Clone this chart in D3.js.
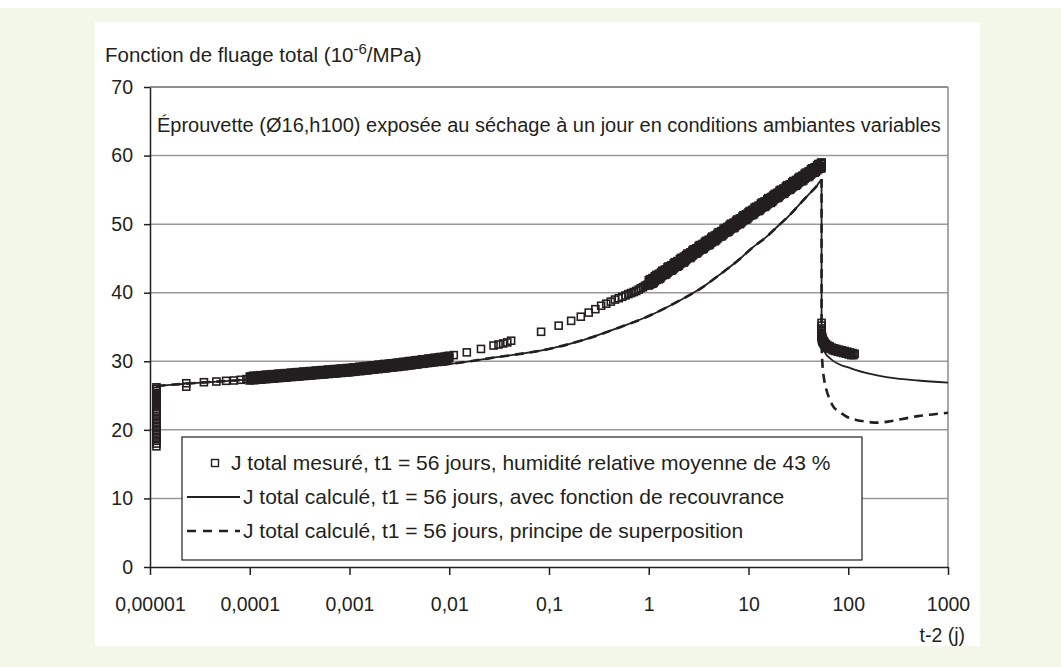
<!DOCTYPE html>
<html>
<head>
<meta charset="utf-8">
<script src="https://cdn.jsdelivr.net/npm/d3@7"></script>
<style>
  body { margin: 0; background: #fff; }
  svg text { font-family: "Liberation Sans", Arial, sans-serif; fill: #231f20; }
</style>
</head>
<body>
<div id="chart"></div>
<script>
// axis ticks
const xTicks = [1e-5, 1e-4, 1e-3, 1e-2, 0.1, 1, 10, 100, 1000];
const xTickLabels = ["0,00001", "0,0001", "0,001", "0,01", "0,1", "1", "10", "100", "1000"];
const yTicks = [0, 10, 20, 30, 40, 50, 60, 70];

// measured total creep, [t-2 (days), J]
// readings at loading
const measuredColumn = [
  [1.16e-5, 17.6], [1.16e-5, 18.0], [1.16e-5, 18.4], [1.16e-5, 18.8], [1.16e-5, 19.2], [1.16e-5, 19.6],
  [1.16e-5, 20.0], [1.16e-5, 20.4], [1.16e-5, 20.8], [1.16e-5, 21.2], [1.16e-5, 21.6], [1.16e-5, 22.0],
  [1.16e-5, 22.4], [1.16e-5, 22.7], [1.16e-5, 23.0], [1.16e-5, 23.3], [1.16e-5, 23.6], [1.16e-5, 23.9],
  [1.16e-5, 24.2], [1.16e-5, 24.5], [1.16e-5, 24.8], [1.16e-5, 25.1], [1.16e-5, 25.4], [1.16e-5, 25.7],
  [1.16e-5, 26.0], [1.16e-5, 26.2]
];
const measuredFirst = [
  [2.31e-5, 26.3], [2.31e-5, 26.8], [3.47e-5, 26.95], [4.63e-5, 27.05], [5.79e-5, 27.15],
  [6.94e-5, 27.2], [8.1e-5, 27.3], [9.26e-5, 27.4]
];
// dense readings, 1e-4 .. 1e-2 day (two sets)
const secTimes = [
  1.00e-4, 1.03e-4, 1.06e-4, 1.09e-4, 1.12e-4, 1.15e-4, 1.19e-4, 1.22e-4, 1.26e-4, 1.30e-4,
  1.33e-4, 1.37e-4, 1.41e-4, 1.45e-4, 1.50e-4, 1.54e-4, 1.58e-4, 1.63e-4, 1.68e-4, 1.73e-4,
  1.78e-4, 1.83e-4, 1.88e-4, 1.94e-4, 2.00e-4, 2.05e-4, 2.11e-4, 2.18e-4, 2.24e-4, 2.30e-4,
  2.37e-4, 2.44e-4, 2.51e-4, 2.59e-4, 2.66e-4, 2.74e-4, 2.82e-4, 2.90e-4, 2.99e-4, 3.07e-4,
  3.16e-4, 3.25e-4, 3.35e-4, 3.45e-4, 3.55e-4, 3.65e-4, 3.76e-4, 3.87e-4, 3.98e-4, 4.10e-4,
  4.22e-4, 4.34e-4, 4.47e-4, 4.60e-4, 4.73e-4, 4.87e-4, 5.01e-4, 5.16e-4, 5.31e-4, 5.46e-4,
  5.62e-4, 5.79e-4, 5.96e-4, 6.13e-4, 6.31e-4, 6.49e-4, 6.68e-4, 6.88e-4, 7.08e-4, 7.29e-4,
  7.50e-4, 7.72e-4, 7.94e-4, 8.18e-4, 8.41e-4, 8.66e-4, 8.91e-4, 9.17e-4, 9.44e-4, 9.72e-4,
  1.00e-3, 1.03e-3, 1.06e-3, 1.09e-3, 1.12e-3, 1.15e-3, 1.19e-3, 1.22e-3, 1.26e-3, 1.30e-3,
  1.33e-3, 1.37e-3, 1.41e-3, 1.45e-3, 1.50e-3, 1.54e-3, 1.58e-3, 1.63e-3, 1.68e-3, 1.73e-3,
  1.78e-3, 1.83e-3, 1.88e-3, 1.94e-3, 2.00e-3, 2.05e-3, 2.11e-3, 2.18e-3, 2.24e-3, 2.30e-3,
  2.37e-3, 2.44e-3, 2.51e-3, 2.59e-3, 2.66e-3, 2.74e-3, 2.82e-3, 2.90e-3, 2.99e-3, 3.07e-3,
  3.16e-3, 3.25e-3, 3.35e-3, 3.45e-3, 3.55e-3, 3.65e-3, 3.76e-3, 3.87e-3, 3.98e-3, 4.10e-3,
  4.22e-3, 4.34e-3, 4.47e-3, 4.60e-3, 4.73e-3, 4.87e-3, 5.01e-3, 5.16e-3, 5.31e-3, 5.46e-3,
  5.62e-3, 5.79e-3, 5.96e-3, 6.13e-3, 6.31e-3, 6.49e-3, 6.68e-3, 6.88e-3, 7.08e-3, 7.29e-3,
  7.50e-3, 7.72e-3, 7.94e-3, 8.18e-3, 8.41e-3, 8.66e-3, 8.91e-3, 9.17e-3, 9.44e-3, 9.72e-3,
  1.00e-2
];
const secJ = [
  27.75, 27.32, 27.58, 27.25, 27.71, 27.83, 27.39, 27.66, 27.32, 27.79,
  27.9, 27.47, 27.73, 27.4, 27.86, 27.98, 27.54, 27.81, 27.47, 27.94,
  28.05, 27.62, 27.88, 27.55, 28.01, 28.13, 27.69, 27.96, 27.62, 28.09,
  28.2, 27.77, 28.03, 27.7, 28.16, 28.28, 27.84, 28.11, 27.77, 28.24,
  28.35, 27.92, 28.18, 27.85, 28.31, 28.43, 27.99, 28.26, 27.92, 28.39,
  28.5, 28.07, 28.33, 28.0, 28.46, 28.58, 28.14, 28.41, 28.07, 28.54,
  28.65, 28.22, 28.48, 28.15, 28.61, 28.73, 28.29, 28.56, 28.22, 28.69,
  28.8, 28.37, 28.63, 28.3, 28.76, 28.88, 28.44, 28.71, 28.37, 28.84,
  28.95, 28.52, 28.79, 28.46, 28.93, 29.05, 28.62, 28.89, 28.56, 29.03,
  29.15, 28.72, 28.99, 28.66, 29.13, 29.25, 28.82, 29.09, 28.76, 29.23,
  29.35, 28.92, 29.19, 28.86, 29.33, 29.45, 29.02, 29.29, 28.96, 29.43,
  29.55, 29.12, 29.39, 29.06, 29.53, 29.65, 29.22, 29.49, 29.16, 29.63,
  29.75, 29.32, 29.6, 29.27, 29.75, 29.87, 29.44, 29.72, 29.39, 29.86,
  29.99, 29.56, 29.84, 29.51, 29.98, 30.11, 29.68, 29.95, 29.63, 30.1,
  30.23, 29.8, 30.07, 29.75, 30.22, 30.34, 29.92, 30.19, 29.87, 30.34,
  30.46, 30.04, 30.31, 29.98, 30.46, 30.58, 30.16, 30.43, 30.1, 30.58,
  30.5
];
const secJ2 = [
  27.2, 27.82, 27.38, 27.9, 27.31, 27.28, 27.89, 27.46, 27.97, 27.39,
  27.35, 27.97, 27.53, 28.05, 27.46, 27.43, 28.04, 27.61, 28.12, 27.54,
  27.5, 28.12, 27.68, 28.2, 27.61, 27.58, 28.19, 27.76, 28.27, 27.69,
  27.65, 28.27, 27.83, 28.35, 27.76, 27.73, 28.34, 27.91, 28.42, 27.84,
  27.8, 28.42, 27.98, 28.5, 27.91, 27.88, 28.49, 28.06, 28.57, 27.99,
  27.95, 28.57, 28.13, 28.65, 28.06, 28.03, 28.64, 28.21, 28.72, 28.14,
  28.1, 28.72, 28.28, 28.8, 28.21, 28.18, 28.79, 28.36, 28.87, 28.29,
  28.25, 28.87, 28.43, 28.95, 28.36, 28.33, 28.94, 28.51, 29.02, 28.44,
  28.4, 29.02, 28.59, 29.11, 28.53, 28.5, 29.12, 28.69, 29.21, 28.63,
  28.6, 29.22, 28.79, 29.31, 28.73, 28.7, 29.32, 28.89, 29.41, 28.83,
  28.8, 29.42, 28.99, 29.51, 28.93, 28.9, 29.52, 29.09, 29.61, 29.03,
  29.0, 29.62, 29.19, 29.71, 29.13, 29.1, 29.72, 29.29, 29.81, 29.23,
  29.2, 29.82, 29.4, 29.92, 29.35, 29.32, 29.94, 29.52, 30.04, 29.46,
  29.44, 30.06, 29.64, 30.16, 29.58, 29.56, 30.18, 29.75, 30.28, 29.7,
  29.68, 30.3, 29.87, 30.4, 29.82, 29.79, 30.42, 29.99, 30.52, 29.94,
  29.91, 30.54, 30.11, 30.63, 30.06, 30.03, 30.66, 30.23, 30.75, 30.18,
  30.8
];
// readings every 5 minutes, then every hour
const measuredHours = [
  [0.0111, 30.9], [0.0150, 31.3], [0.0208, 31.8], [0.0278, 32.3], [0.0312, 32.45], [0.0347, 32.6],
  [0.0382, 32.75], [0.0417, 33.0],
  [0.0833, 34.3], [0.125, 35.2], [0.1667, 35.9], [0.2083, 36.5], [0.25, 37.1], [0.2917, 37.6],
  [0.3333, 38.1], [0.375, 38.4], [0.4167, 38.7], [0.4583, 39.0], [0.5, 39.2], [0.5417, 39.4],
  [0.5833, 39.6], [0.625, 39.8], [0.6667, 39.95], [0.7083, 40.1], [0.75, 40.25], [0.7917, 40.45],
  [0.8333, 40.65], [0.875, 40.8], [0.9167, 41.0], [0.9583, 41.15]
];
// dense readings, 1 day .. unloading (day and night values)
const dayTimes = [
  1.00, 1.03, 1.06, 1.09, 1.12, 1.15, 1.19, 1.22, 1.26, 1.30,
  1.33, 1.37, 1.41, 1.45, 1.50, 1.54, 1.58, 1.63, 1.68, 1.73,
  1.78, 1.83, 1.88, 1.94, 2.00, 2.05, 2.11, 2.18, 2.24, 2.30,
  2.37, 2.44, 2.51, 2.59, 2.66, 2.74, 2.82, 2.90, 2.99, 3.07,
  3.16, 3.25, 3.35, 3.45, 3.55, 3.65, 3.76, 3.87, 3.98, 4.10,
  4.22, 4.34, 4.47, 4.60, 4.73, 4.87, 5.01, 5.16, 5.31, 5.46,
  5.62, 5.79, 5.96, 6.13, 6.31, 6.49, 6.68, 6.88, 7.08, 7.29,
  7.50, 7.72, 7.94, 8.18, 8.41, 8.66, 8.91, 9.17, 9.44, 9.72,
  10.0, 10.3, 10.6, 10.9, 11.2, 11.5, 11.9, 12.2, 12.6, 13.0,
  13.3, 13.7, 14.1, 14.5, 15.0, 15.4, 15.8, 16.3, 16.8, 17.3,
  17.8, 18.3, 18.8, 19.4, 20.0, 20.5, 21.1, 21.8, 22.4, 23.0,
  23.7, 24.4, 25.1, 25.9, 26.6, 27.4, 28.2, 29.0, 29.9, 30.7,
  31.6, 32.5, 33.5, 34.5, 35.5, 36.5, 37.6, 38.7, 39.8, 41.0,
  42.2, 43.4, 44.7, 46.0, 47.3, 48.7, 50.1, 51.6, 53.1, 54.0,
  54.0
];
const dayJ = [
  41.8, 41.2, 41.75, 41.3, 42.15, 42.4, 41.85, 42.4, 41.95, 42.77,
  43.0, 42.5, 43.0, 42.6, 43.4, 43.7, 43.1, 43.6, 43.2, 44.0,
  44.3, 43.7, 44.2, 43.8, 44.6, 44.9, 44.3, 44.86, 44.4, 45.3,
  45.5, 45.0, 45.5, 45.05, 45.9, 46.15, 45.6, 46.1, 45.7, 46.5,
  46.8, 46.2, 46.7, 46.3, 47.1, 47.4, 46.8, 47.35, 46.9, 47.7,
  48.0, 47.4, 47.97, 47.5, 48.4, 48.6, 48.1, 48.6, 48.2, 49.0,
  49.3, 48.7, 49.2, 48.8, 49.6, 49.9, 49.3, 49.8, 49.4, 50.2,
  50.5, 49.9, 50.45, 50.0, 50.85, 51.1, 50.55, 51.1, 50.65, 51.5,
  51.75, 51.2, 51.7, 51.3, 52.1, 52.4, 51.8, 52.3, 51.9, 52.7,
  53.0, 52.4, 52.9, 52.5, 53.3, 53.6, 53.0, 53.6, 53.1, 54.0,
  54.2, 53.7, 54.2, 53.8, 54.6, 54.9, 54.3, 54.8, 54.4, 55.2,
  55.5, 54.9, 55.4, 55.0, 55.8, 56.1, 55.5, 56.05, 55.6, 56.45,
  56.7, 56.15, 56.7, 56.25, 57.07, 57.35, 56.8, 57.3, 56.87, 57.7,
  58.0, 57.4, 57.9, 57.5, 58.3, 58.6, 58.0, 58.5, 58.1, 58.8,
  58.4
];
const dayJ2 = [
  41.05, 41.97, 41.4, 42.12, 41.45, 41.67, 42.6, 42.02, 42.75, 42.07,
  42.29, 43.22, 42.64, 43.37, 42.69, 42.92, 43.84, 43.26, 43.99, 43.31,
  43.54, 44.46, 43.89, 44.61, 43.94, 44.16, 45.08, 44.51, 45.23, 44.56,
  44.78, 45.71, 45.13, 45.85, 45.18, 45.4, 46.33, 45.75, 46.48, 45.8,
  46.03, 46.95, 46.37, 47.1, 46.42, 46.65, 47.57, 47.0, 47.72, 47.04,
  47.27, 48.19, 47.62, 48.34, 47.67, 47.89, 48.82, 48.24, 48.96, 48.29,
  48.51, 49.44, 48.86, 49.59, 48.91, 49.13, 50.06, 49.48, 50.21, 49.53,
  49.76, 50.68, 50.1, 50.83, 50.15, 50.38, 51.3, 50.73, 51.45, 50.77,
  51.0, 51.92, 51.35, 52.07, 51.4, 51.62, 52.54, 51.97, 52.69, 52.02,
  52.24, 53.17, 52.59, 53.32, 52.64, 52.87, 53.79, 53.21, 53.94, 53.26,
  53.49, 54.41, 53.84, 54.56, 53.89, 54.11, 55.03, 54.46, 55.18, 54.51,
  54.73, 55.66, 55.08, 55.81, 55.13, 55.35, 56.28, 55.7, 56.43, 55.75,
  55.98, 56.9, 56.32, 57.05, 56.37, 56.6, 57.52, 56.95, 57.67, 57.0,
  57.22, 58.14, 57.57, 58.29, 57.62, 57.84, 58.77, 58.19, 58.92, 59.0,
  58.2
];
// readings after unloading
const measuredUnload = [
  [54.0, 35.6], [54.0, 35.2], [54.0, 34.8], [54.01, 34.4], [54.02, 34.1], [54.05, 33.8], [54.1, 33.5],
  [54.2, 34.0], [54.3, 33.3], [54.45, 33.7], [54.6, 33.1], [54.8, 33.5], [55, 32.9], [55.3, 33.3],
  [55.6, 32.8], [56, 33.1], [56.5, 32.6], [57, 32.9], [57.6, 32.4], [58.3, 32.7], [59, 32.2],
  [60, 32.5], [61, 32.0], [62, 32.3], [63.5, 31.9], [65, 32.2], [66.5, 31.8], [68, 32.0], [70, 31.6],
  [72, 31.9], [74, 31.5], [76, 31.8], [78.5, 31.4], [81, 31.7], [83.5, 31.3], [86, 31.6], [89, 31.2],
  [92, 31.5], [95, 31.1], [98, 31.4], [101, 31.0], [104, 31.3], [107, 30.9], [110, 31.2], [113, 30.9],
  [116, 31.1]
];

// calculated total creep, loading phase (same for both models)
const calcLoading = [
  [1.16e-5, 26.4], [3e-5, 26.85], [1e-4, 27.35], [3e-4, 27.85], [1e-3, 28.4], [3e-3, 28.95],
  [1e-2, 29.6], [3e-2, 30.6], [0.1, 31.8], [0.22, 33.1], [0.5, 34.9], [1, 36.6], [2, 38.8],
  [3.3, 40.6], [5, 42.5], [8, 44.8], [11, 46.6], [15, 48.1], [20, 49.8], [25, 51.1], [33, 53.0],
  [40, 54.3], [48, 55.5], [54, 56.4]
];
// after unloading: recovery function
const calcRecovery = [
  [54.02, 33.6], [55, 32.3], [57, 31.6], [60, 31.0], [65, 30.5], [70, 30.1], [80, 29.6], [90, 29.3],
  [100, 29.1], [120, 28.7], [150, 28.3], [200, 27.9], [300, 27.5], [500, 27.2], [1000, 26.9]
];
// after unloading: superposition principle
const calcSuperposition = [
  [54.02, 33.0], [55, 29.8], [57, 27.6], [60, 26.0], [65, 24.5], [70, 23.5], [80, 22.7], [90, 22.2],
  [100, 21.8], [120, 21.45], [150, 21.2], [200, 21.05], [250, 21.2], [300, 21.4], [400, 21.75],
  [500, 22.0], [700, 22.25], [1000, 22.5]
];

const legendLabels = [
  "J total mesuré, t1 = 56 jours, humidité relative moyenne de 43 %",
  "J total calculé, t1 = 56 jours, avec fonction de recouvrance",
  "J total calculé, t1 = 56 jours, principe de superposition"
];

const W = 1061, H = 667;
const ink = "#231f20";

const svg = d3.select("#chart").append("svg")
  .attr("width", W).attr("height", H);

// background + white panel
svg.append("rect").attr("x", 0).attr("y", 8).attr("width", W).attr("height", H - 8).attr("fill", "#f3f7e9");
svg.append("rect").attr("x", 95).attr("y", 22).attr("width", 885).attr("height", 624).attr("fill", "#fff");

const x = d3.scaleLog().domain([1e-5, 1000]).range([150, 948]);
const y = d3.scaleLinear().domain([0, 70]).range([567, 87]);

// gridlines
svg.append("g")
  .selectAll("line")
  .data(yTicks.filter((d) => d > 0 && d < 70))
  .join("line")
  .attr("x1", x(1e-5)).attr("x2", x(1000))
  .attr("y1", (d) => y(d)).attr("y2", (d) => y(d))
  .attr("stroke", "#9a9a9a").attr("stroke-width", 1.5);

// top and right border of plot
svg.append("line").attr("x1", x(1e-5)).attr("x2", x(1000)).attr("y1", y(70)).attr("y2", y(70))
  .attr("stroke", ink).attr("stroke-width", 1);
svg.append("line").attr("x1", x(1000)).attr("x2", x(1000)).attr("y1", y(70)).attr("y2", y(0))
  .attr("stroke", "#8a8a8a").attr("stroke-width", 1.5);

// measured squares
const measured = measuredColumn.concat(
  measuredFirst,
  secTimes.map((t, i) => [t, secJ[i]]),
  secTimes.map((t, i) => [t, secJ2[i]]),
  measuredHours,
  dayTimes.map((t, i) => [t, dayJ[i]]),
  dayTimes.map((t, i) => [t, dayJ2[i]]),
  measuredUnload
);
svg.append("g")
  .selectAll("rect")
  .data(measured)
  .join("rect")
  .attr("x", (d) => x(d[0]) - 3.5)
  .attr("y", (d) => y(d[1]) - 3.5)
  .attr("width", 7).attr("height", 7)
  .attr("fill", "none")
  .attr("stroke", ink)
  .attr("stroke-width", 1.6);

const line = d3.line()
  .x((d) => x(d[0]))
  .y((d) => y(d[1]))
  .curve(d3.curveMonotoneX);

svg.append("path")
  .attr("d", line(calcLoading.concat(calcRecovery)))
  .attr("fill", "none").attr("stroke", ink).attr("stroke-width", 1.8);

svg.append("path")
  .attr("d", line(calcLoading.concat(calcSuperposition)))
  .attr("fill", "none").attr("stroke", ink).attr("stroke-width", 2.6)
  .attr("stroke-dasharray", "9,6");

// axes
const xAxis = svg.append("g")
  .attr("transform", `translate(0,${y(0)})`)
  .call(d3.axisBottom(x).tickValues(xTicks).tickFormat((d, i) => xTickLabels[i])
    .tickSize(8).tickPadding(22).tickSizeOuter(0));
const yAxis = svg.append("g")
  .attr("transform", `translate(${x(1e-5)},0)`)
  .call(d3.axisLeft(y).tickValues(yTicks).tickSize(6).tickPadding(11).tickSizeOuter(0));

[xAxis, yAxis].forEach((g) => {
  g.select(".domain").attr("stroke", ink).attr("stroke-width", 1.5);
  g.selectAll(".tick line").attr("stroke", ink).attr("stroke-width", 1.5);
  g.selectAll(".tick text").attr("fill", ink).style("font-size", "19.5px")
    .style("font-family", '"Liberation Sans", Arial, sans-serif');
});

// titles
const yTitle = svg.append("text").attr("x", 105).attr("y", 62).style("font-size", "20.5px");
yTitle.append("tspan").text("Fonction de fluage total (10");
yTitle.append("tspan").attr("dy", -8).style("font-size", "15px").text("-6");
yTitle.append("tspan").attr("dy", 8).text("/MPa)");

svg.append("text").attr("x", 965).attr("y", 642).attr("text-anchor", "end")
  .style("font-size", "19.5px").text("t-2 (j)");

svg.append("text").attr("x", 157).attr("y", 132).style("font-size", "20px")
  .text("Éprouvette (Ø16,h100) exposée au séchage à un jour en conditions ambiantes variables");

// legend
const lg = svg.append("g");
lg.append("rect").attr("x", 182).attr("y", 437).attr("width", 680).attr("height", 123)
  .attr("fill", "#fff").attr("stroke", ink).attr("stroke-width", 1.2);
const rowY = [463, 497, 531];
lg.append("rect").attr("x", 211.5).attr("y", rowY[0] - 3.5).attr("width", 7).attr("height", 7)
  .attr("fill", "none").attr("stroke", ink).attr("stroke-width", 1.4);
lg.append("line").attr("x1", 187).attr("x2", 240).attr("y1", rowY[1]).attr("y2", rowY[1])
  .attr("stroke", ink).attr("stroke-width", 2.2);
lg.append("line").attr("x1", 187).attr("x2", 240).attr("y1", rowY[2]).attr("y2", rowY[2])
  .attr("stroke", ink).attr("stroke-width", 2.6).attr("stroke-dasharray", "9,7");
lg.selectAll("text.lab")
  .data(legendLabels)
  .join("text")
  .attr("class", "lab")
  .attr("x", (d, i) => (i === 0 ? 231 : 243))
  .attr("y", (d, i) => rowY[i] + 7)
  .style("font-size", "21px")
  .text((d) => d);
</script>
</body>
</html>
